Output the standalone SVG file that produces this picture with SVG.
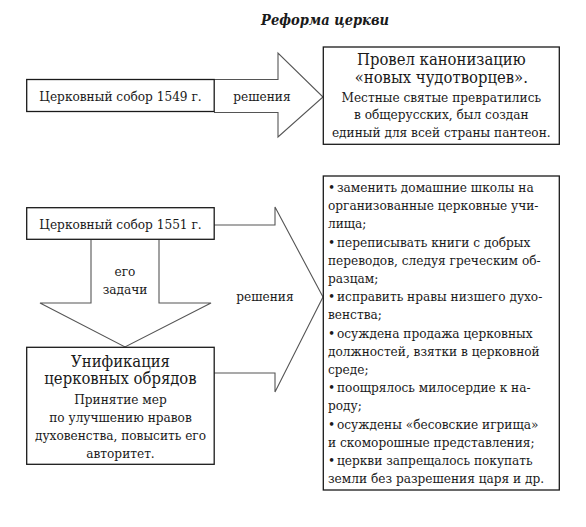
<svg xmlns="http://www.w3.org/2000/svg" width="586" height="527" viewBox="0 0 586 527">
<style>
text{font-family:'DejaVu Serif Condensed','DejaVu Serif',serif;fill:#1a1a1a}
.t{font-size:13.5px}
.b{font-size:16.5px}
.c{text-anchor:middle}
.title{font-size:14.5px;font-weight:bold;font-style:italic}
.box{fill:#fff;stroke:#1a1a1a;stroke-width:1.3}
.arr{fill:none;stroke:#555;stroke-width:1.1;stroke-linejoin:miter}
</style>
<rect width="586" height="527" fill="#fff"/>
<text class="title c" x="325" y="25">Реформа церкви</text>

<g id="connectors">
<polyline class="arr" points="214,79.5 278,79.5 278,53 323,97 278,137 278,112.5 214,112.5"/>
<polyline class="arr" points="214,225 275,225 275,207 323,297 275,392 275,373 214,373"/>
<polyline class="arr" points="91,240 91,303 40,303 125,347 211,303 159,303 159,240"/>
<text class="t c" x="262" y="101">решения</text>
<text class="t c" x="265" y="301">решения</text>
<text class="t c" x="125" y="276">его</text>
<text class="t c" x="125" y="293.5">задачи</text>
</g>

<g id="sobor1549">
<rect class="box" x="26.7" y="79.5" width="187.5" height="32"/>
<text class="t c" x="120.5" y="100.5">Церковный собор 1549 г.</text>
</g>

<g id="kanonizacia">
<rect class="box" x="323.3" y="47" width="236" height="97.3"/>
<text class="b c" x="441.3" y="65">Провел канонизацию</text>
<text class="b c" x="441.3" y="83">«новых чудотворцев».</text>
<text class="t c" x="441.3" y="101.5">Местные святые превратились</text>
<text class="t c" x="441.3" y="119">в общерусских, был создан</text>
<text class="t c" x="441.3" y="137">единый для всей страны пантеон.</text>
</g>

<g id="sobor1551">
<rect class="box" x="26.7" y="207.7" width="187.5" height="31.6"/>
<text class="t c" x="120.5" y="228.5">Церковный собор 1551 г.</text>
</g>

<g id="unifikacia">
<rect class="box" x="26.7" y="347.3" width="187.5" height="117"/>
<text class="b c" x="120.5" y="366.7">Унификация</text>
<text class="b c" x="120.5" y="384.3">церковных обрядов</text>
<text class="t c" x="120.5" y="404">Принятие мер</text>
<text class="t c" x="120.5" y="421.7">по улучшению нравов</text>
<text class="t c" x="120.5" y="440">духовенства, повысить его</text>
<text class="t c" x="120.5" y="458.3">авторитет.</text>
</g>

<g id="reshenia">
<rect class="box" x="323.3" y="176" width="236" height="314"/>
<text class="t" x="328" y="192"><tspan>•</tspan><tspan x="337">заменить домашние школы на</tspan></text>
<text class="t" x="328" y="210.2">организованные церковные учи-</text>
<text class="t" x="328" y="228.4">лища;</text>
<text class="t" x="328" y="246.6"><tspan>•</tspan><tspan x="337">переписывать книги с добрых</tspan></text>
<text class="t" x="328" y="264.8">переводов, следуя греческим об-</text>
<text class="t" x="328" y="283">разцам;</text>
<text class="t" x="328" y="301.2"><tspan>•</tspan><tspan x="337">исправить нравы низшего духо-</tspan></text>
<text class="t" x="328" y="319.4">венства;</text>
<text class="t" x="328" y="337.6"><tspan>•</tspan><tspan x="337">осуждена продажа церковных</tspan></text>
<text class="t" x="328" y="355.8">должностей, взятки в церковной</text>
<text class="t" x="328" y="374">среде;</text>
<text class="t" x="328" y="392.2"><tspan>•</tspan><tspan x="337">поощрялось милосердие к на-</tspan></text>
<text class="t" x="328" y="410.4">роду;</text>
<text class="t" x="328" y="428.6"><tspan>•</tspan><tspan x="337">осуждены «бесовские игрища»</tspan></text>
<text class="t" x="328" y="446.8">и скоморошные представления;</text>
<text class="t" x="328" y="465"><tspan>•</tspan><tspan x="337">церкви запрещалось покупать</tspan></text>
<text class="t" x="328" y="483.2">земли без разрешения царя и др.</text>
</g>
</svg>
